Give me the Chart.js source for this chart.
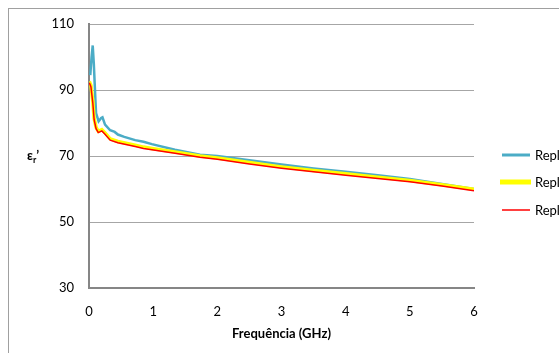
<!DOCTYPE html>
<html>
<head>
<meta charset="utf-8">
<script src="https://cdn.jsdelivr.net/npm/chart.js@4/dist/chart.umd.min.js"></script>
<style>
html,body{margin:0;padding:0;background:#fff;}
#wrap{width:559px;height:353px;position:relative;}
</style>
</head>
<body>
<div id="wrap"><canvas id="c" width="559" height="353"></canvas></div>
<script>
// ---- data ----
const seriesLabels = ["Replica 1", "Replica 2", "Replica 3"];
const seriesColors = ["#4BACC6", "#FFFF00", "#FF0000"];

const freqBlue = [0.02,0.04,0.058,0.075,0.10,0.11,0.15,0.19,0.21,0.25,0.33,0.40,0.45,0.55,0.72,0.85,0.98,1.34,1.73,2.0,2.5,3.0,3.5,4.0,4.5,5.0,5.5,6.0];
const epsBlue  = [94.5,100,103.5,98,87,83,80.5,81.5,81.7,79.5,77.8,77.3,76.5,75.8,74.8,74.3,73.6,71.9,70.4,70.0,68.7,67.4,66.2,65.2,64.2,63.0,61.5,60.0];

const freqYellow = [0.005,0.03,0.06,0.08,0.11,0.145,0.20,0.25,0.33,0.45,0.72,0.85,0.98,1.34,1.73,2.0,2.5,3.0,3.5,4.0,4.5,5.0,5.5,6.0];
const epsYellow  = [92.6,91.4,86.4,81.4,78.7,77.5,78.0,77.0,75.2,74.4,73.3,72.7,72.3,71.2,70.0,69.4,68.0,66.7,65.6,64.6,63.6,62.6,61.3,59.9];

const freqRed = [0.005,0.03,0.06,0.08,0.11,0.145,0.20,0.25,0.33,0.45,0.72,0.85,0.98,1.34,1.73,2.0,2.5,3.0,3.5,4.0,4.5,5.0,5.5,6.0];
const epsRed  = [92.2,91.0,86.0,81.0,78.3,77.1,77.6,76.6,74.8,74.0,72.9,72.3,71.9,70.8,69.6,69.0,67.6,66.3,65.2,64.2,63.2,62.2,60.9,59.5];

const xTicks = [0,1,2,3,4,5,6];
const yTicks = [30,50,70,90,110];
const xTitle = "Frequência (GHz)";

function pts(xs, ys){ return xs.map((x,i)=>({x:x, y:ys[i]})); }

const FONT = "Lato, 'Open Sans', 'Liberation Sans', sans-serif";

const framePlugin = {
  id: 'frame',
  beforeDraw(chart){
    const ctx = chart.ctx;
    ctx.save();
    ctx.fillStyle = '#fff';
    ctx.fillRect(0,0,chart.width,chart.height);
    ctx.strokeStyle = '#a0a0a0';
    ctx.lineWidth = 1;
    ctx.strokeRect(8.5, 8.5, 700, 500);
    ctx.restore();
  },
  afterDraw(chart){
    const ctx = chart.ctx;
    ctx.save();
    // y axis title: epsilon r prime (horizontal)
    ctx.fillStyle = '#000';
    ctx.textBaseline = 'alphabetic';
    ctx.textAlign = 'left';
    ctx.font = "bold 13px " + FONT;
    const yc = chart.chartArea.top + (chart.chartArea.bottom - chart.chartArea.top)/2;
    let x = 27;
    ctx.fillText("ε", x, yc + 4);
    x += ctx.measureText("ε").width;
    ctx.font = "bold 9px " + FONT;
    ctx.fillText("r", x, yc + 7);
    x += ctx.measureText("r").width;
    ctx.font = "bold 13px " + FONT;
    ctx.fillText("’", x, yc + 4);
    // legend
    const lx0 = 502, lx1 = 530, tx = 535;
    const ys = [155, 182, 210];
    const widths = [3, 5, 1.5];
    chart.data.datasets.forEach((ds, i) => {
      ctx.strokeStyle = ds.borderColor;
      ctx.lineWidth = widths[i];
      ctx.beginPath();
      ctx.moveTo(i===1 ? lx0-2 : lx0, ys[i]);
      ctx.lineTo(i===1 ? lx1+1 : lx1, ys[i]);
      ctx.stroke();
      ctx.fillStyle = '#000';
      ctx.font = "13px " + FONT;
      ctx.textBaseline = 'middle';
      ctx.fillText(ds.label, tx, ys[i] + 1);
    });
    ctx.restore();
  }
};

new Chart(document.getElementById('c'), {
  type: 'line',
  data: {
    datasets: [
      { label: seriesLabels[0], data: pts(freqBlue, epsBlue), borderColor: seriesColors[0], borderWidth: 2.5, order: 3 },
      { label: seriesLabels[1], data: pts(freqYellow, epsYellow), borderColor: seriesColors[1], borderWidth: 3.5, order: 2 },
      { label: seriesLabels[2], data: pts(freqRed, epsRed), borderColor: seriesColors[2], borderWidth: 1.5, order: 1 }
    ]
  },
  options: {
    responsive: false,
    animation: false,
    devicePixelRatio: 1,
    layout: { padding: { left: 0, top: 24, right: 85, bottom: 0 } },
    elements: { point: { radius: 0 }, line: { tension: 0, fill: false } },
    plugins: { legend: { display: false }, tooltip: { enabled: false } },
    scales: {
      x: {
        type: 'linear', min: 0, max: 6,
        afterBuildTicks(s){ s.ticks = xTicks.map(v=>({value:v})); },
        afterFit(s){ s.height = 65; },
        grid: { display: false, drawTicks: false },
        border: { display: true, color: '#868686', width: 2 },
        ticks: { color: '#000', padding: 16, maxRotation: 0, font: { family: FONT, size: 13 } },
        title: { display: true, text: xTitle, color: '#000', font: { family: FONT, size: 13, weight: 'bold' }, padding: { top: 0, bottom: 11 } }
      },
      y: {
        type: 'linear', min: 30, max: 110,
        afterBuildTicks(s){ s.ticks = yTicks.map(v=>({value:v})); },
        afterFit(s){ s.width = 89; },
        grid: { color: '#a6a6a6', lineWidth: 1, drawTicks: false },
        border: { display: true, color: '#868686', width: 2 },
        ticks: { color: '#000', padding: 15, font: { family: FONT, size: 13 } }
      }
    }
  },
  plugins: [framePlugin]
});
</script>
</body>
</html>
